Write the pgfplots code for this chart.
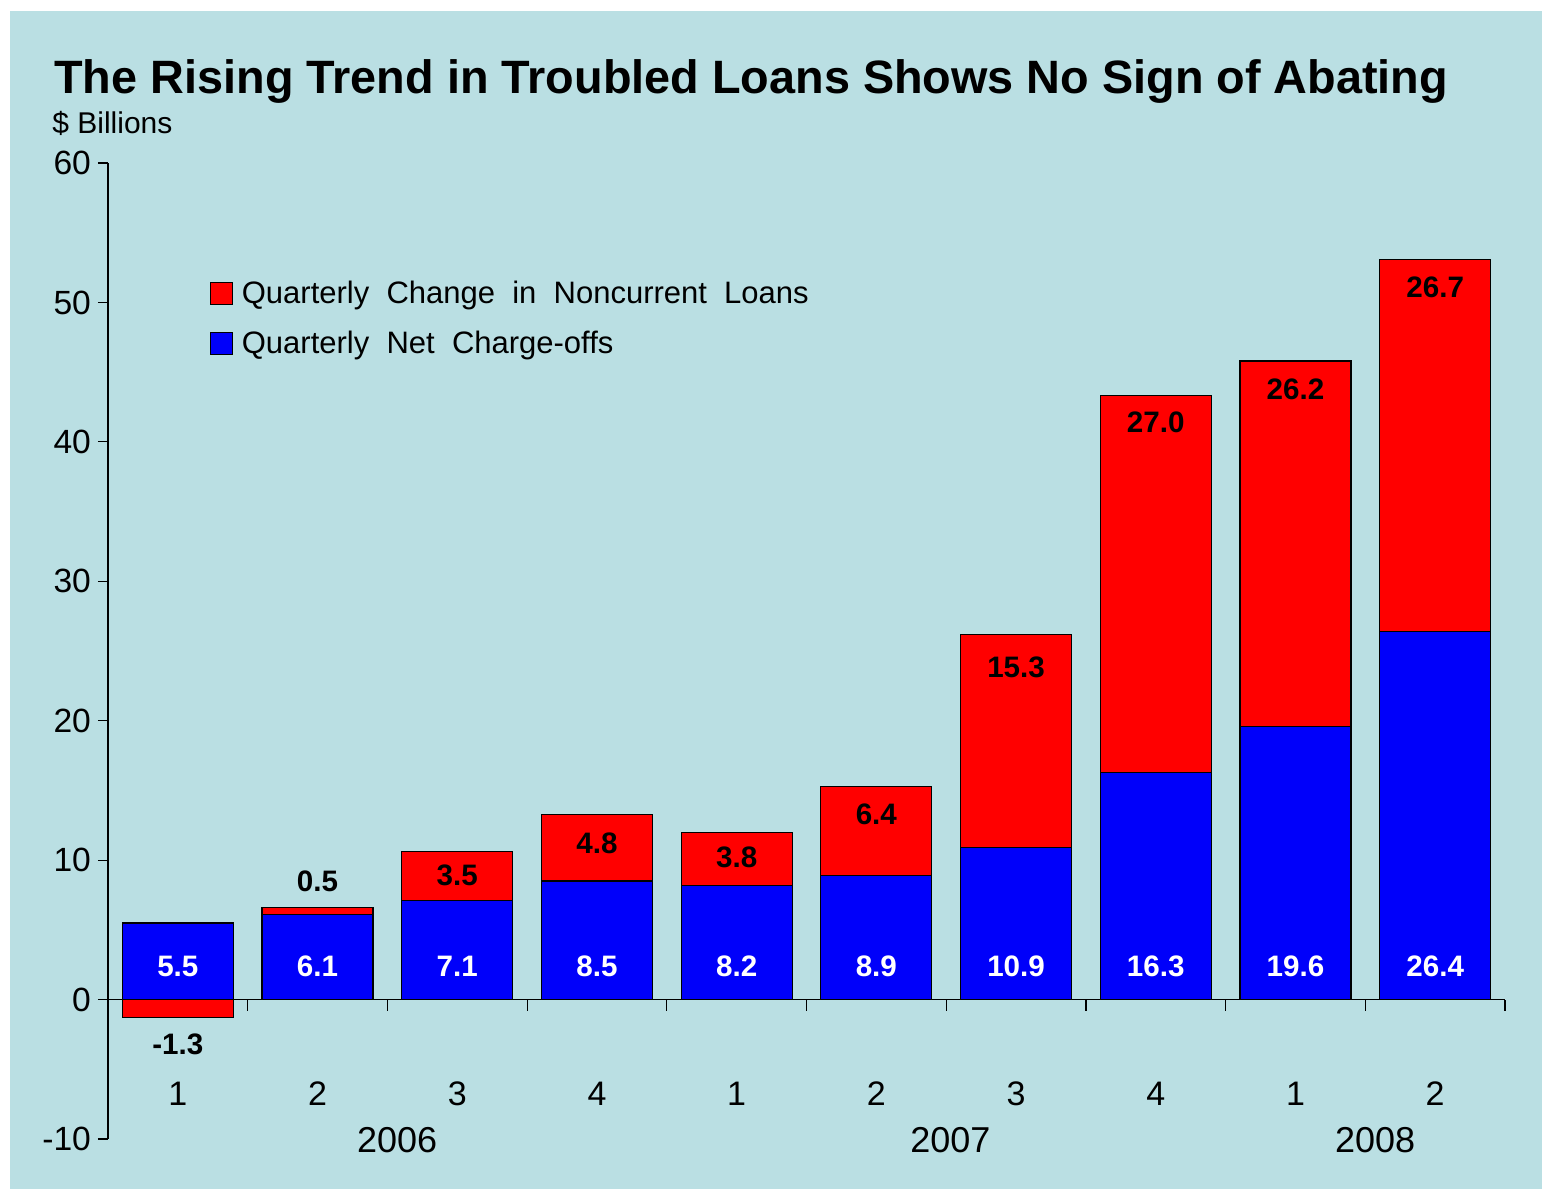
\documentclass[border=0pt]{standalone}
\usepackage{pgfplots}
\pgfplotsset{compat=1.18}
\usepackage{pgfplotstable}
\usepackage{fontspec}
\setmainfont{Liberation Sans}
\definecolor{bg}{RGB}{186,223,227}
\definecolor{barred}{RGB}{255,0,0}
\definecolor{barblue}{RGB}{0,0,250}

\pgfplotstableread{
x blue red total rly bly
0 5.5 -1.3 -1.3 -3.2 2.4
1 6.1 0.5 6.6 8.5 2.4
2 7.1 3.5 10.6 8.9 2.4
3 8.5 4.8 13.3 11.2 2.4
4 8.2 3.8 12.0 10.2 2.4
5 8.9 6.4 15.3 13.3 2.4
6 10.9 15.3 26.2 23.8 2.4
7 16.3 27.0 43.3 41.4 2.4
8 19.6 26.2 45.8 43.8 2.4
9 26.4 26.7 53.1 51.1 2.4
}\data

\begin{document}
\begin{tikzpicture}
\fill[white] (0pt,0pt) rectangle (776pt,-600pt);
\fill[bg] (5pt,-5.5pt) rectangle (771pt,-594.5pt);
\node[anchor=base west, font=\bfseries\fontsize{23.4}{27}\selectfont, inner sep=0] at (27pt,-46.5pt) {The Rising Trend in Troubled Loans Shows No Sign of Abating};
\node[anchor=base west, font=\fontsize{15}{17}\selectfont, inner sep=0] at (26pt,-66.5pt) {\$ Billions};
\begin{axis}[
  at={(54pt,-569.5pt)}, anchor=south west,
  scale only axis, width=698.5pt, height=488pt,
  xmin=-0.5, xmax=9.5, ymin=-10, ymax=60,
  axis y line*=left, axis x line*=middle,
  axis line style={-, black, line width=0.6pt},
  ytick={-10,0,10,20,30,40,50,60},
  ytick align=outside,
  major tick length=5pt,
  minor tick length=5.5pt,
  y tick style={black, line width=0.6pt},
  yticklabel style={font=\fontsize{16.8}{18}\selectfont, /pgf/number format/assume math mode=true},
  xtick={0,...,9},
  xticklabels={1,2,3,4,1,2,3,4,1,2},
  major x tick style={draw=none},
  minor xtick={0.5,1.5,2.5,3.5,4.5,5.5,6.5,7.5,8.5,9.5},
  xtick align=outside,
  minor x tick style={black, line width=0.6pt},
  xticklabel style={font=\fontsize{17}{18}\selectfont, yshift=-32.5pt},
  legend style={at={(rel axis cs:0.0725,0.884)}, anchor=north west, draw=none, fill=none,
    font=\fontsize{15.5}{18}\selectfont, row sep=8.5pt, inner sep=0pt,
    nodes={inner xsep=4.5pt}},
  legend cell align=left,
  legend image code/.code={\draw[#1, draw=black, line width=0.6pt] (0pt,-5.5pt) rectangle (11pt,5.5pt);},
  clip=false,
]
\addplot[ybar, bar width=0.795, bar shift=0pt, fill=barred, draw=black, line width=0.6pt] table[x=x,y=total]{\data};
\addlegendentry{Quarterly\ \ Change\ \ in\ \ Noncurrent\ \ Loans}
\addplot[ybar, bar width=0.795, bar shift=0pt, fill=barblue, draw=black, line width=0.6pt] table[x=x,y=blue]{\data};
\addlegendentry{Quarterly\ \ Net\ \ Charge-offs}
\addplot[draw=none, mark=none, forget plot, nodes near coords, point meta=explicit symbolic,
  every node near coord/.append style={anchor=center, font=\bfseries\fontsize{14.8}{16}\selectfont, text=black}]
  table[x=x,y=rly,meta=red]{\data};
\addplot[draw=none, mark=none, forget plot, nodes near coords, point meta=explicit symbolic,
  every node near coord/.append style={anchor=center, font=\bfseries\fontsize{14.8}{16}\selectfont, text=white}]
  table[x=x,y=bly,meta=blue]{\data};
\node[font=\fontsize{18}{20}\selectfont] at (axis cs:1.57,-10.1) {2006};
\node[font=\fontsize{18}{20}\selectfont] at (axis cs:5.53,-10.1) {2007};
\node[font=\fontsize{18}{20}\selectfont] at (axis cs:8.57,-10.1) {2008};
\end{axis}
\end{tikzpicture}
\end{document}
